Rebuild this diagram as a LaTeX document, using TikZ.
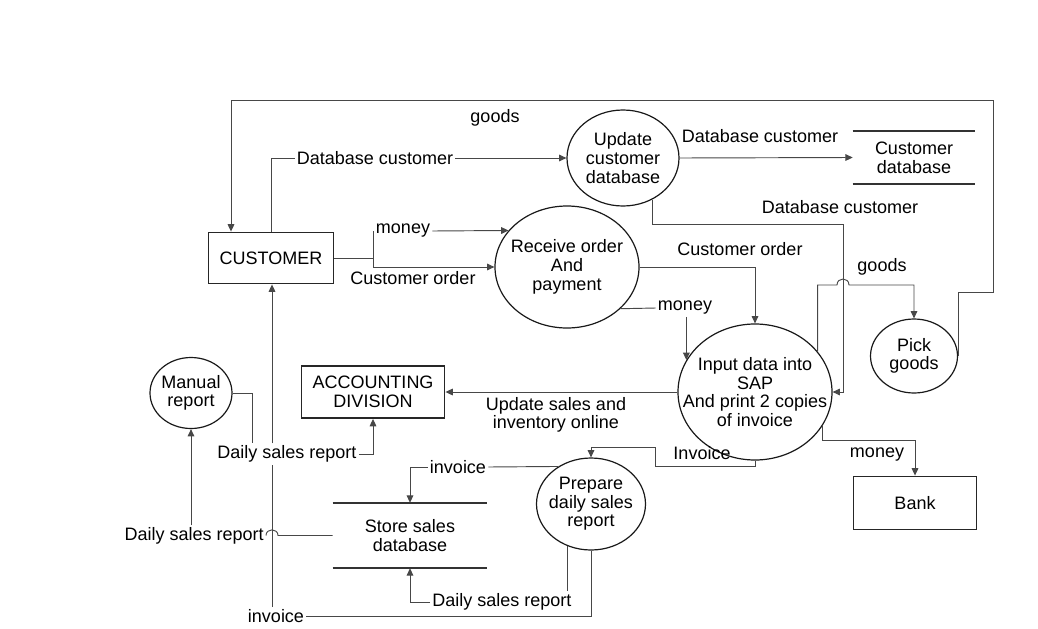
\documentclass[tikz,border=0pt]{standalone}
\usepackage{fontspec}
\setmainfont{Liberation Sans}
\usetikzlibrary{shapes.geometric,arrows.meta}
\begin{document}
\begin{tikzpicture}[x=0.75pt,y=-0.75pt,
  font=\fontsize{13.5}{14}\selectfont,
  flow/.style={draw=black!72, line width=0.7pt},
  tip/.style={-{Triangle[length=5.5pt,width=5pt]}},
  proc/.style={ellipse, draw=black!90, line width=0.9pt, inner sep=0pt},
  ptext/.style={align=center, inner sep=0pt},
  ent/.style={rectangle, draw=black!85, line width=1.4pt, align=center, inner sep=0pt},
  store/.style={rectangle, align=center, inner sep=0pt},
  storeline/.style={draw=black!80, line width=1.3pt},
  lab/.style={inner sep=1.5pt, align=center},
]
\useasboundingbox (0,0) rectangle (1038,628);

% processes (outline node plus its caption), entities and data stores
\node[ent, minimum width=93.75pt, minimum height=38.25pt] (cust) at (271,258) {CUSTOMER};
\node[proc, minimum width=84pt, minimum height=72pt] (upd) at (623,158) {};
\node[ptext] at (upd) {Update\\customer\\database};
\node[store, minimum width=91.5pt, minimum height=39.75pt] (cdb) at (914,157.5) {Customer\\database};
\node[proc, minimum width=108pt, minimum height=91.5pt] (recv) at (567,267) {};
\node[ptext] at (recv) {Receive order\\And\\payment};
\node[proc, minimum width=115.5pt, minimum height=102pt] (inp) at (755,392) {};
\node[ptext] at (inp) {Input data into\\SAP\\And print 2 copies\\of invoice};
\node[proc, minimum width=65.25pt, minimum height=55.5pt] (pick) at (914,356) {};
\node[ptext] at (pick) {Pick\\goods};
\node[ent, minimum width=107.25pt, minimum height=39pt] (acc) at (373,392) {ACCOUNTING\\DIVISION};
\node[proc, minimum width=61.5pt, minimum height=53.25pt] (man) at (191,393) {};
\node[ptext] at (man) {Manual\\report};
\node[proc, minimum width=81.75pt, minimum height=69pt] (prep) at (591,504) {};
\node[ptext] at (prep) {Prepare\\daily sales\\report};
\node[ent, minimum width=92.25pt, minimum height=39.75pt] (bank) at (915,503) {Bank};
\node[store, minimum width=115.5pt, minimum height=48.75pt] (sdb) at (410,535.5) {Store sales\\database};

\draw[storeline] (cdb.north west) -- (cdb.north east) (cdb.south west) -- (cdb.south east);
\draw[storeline] (sdb.north west) -- (sdb.north east) (sdb.south west) -- (sdb.south east);

% flow labels
\node[lab] (lgA) at (495,118) {goods};
\node[lab] (ldb1) at (375,158) {Database customer};
\node[lab] (ldb2) at (760,136) {Database customer};
\node[lab] (ldb3) at (840,207) {Database customer};
\node[lab] (lm1) at (403,231) {money};
\node[lab] (lco1) at (413,278) {Customer order};
\node[lab] (lco2) at (740,249) {Customer order};
\node[lab] (lm2) at (685,308) {money};
\node[lab] (lgB) at (882,267) {goods};
\node[lab] (lupd) at (556,415) {Update sales and\\inventory online};
\node[lab] (linv1) at (702,453) {Invoice};
\node[lab] (lm3) at (877,455) {money};
\node[lab] (lds1) at (287,454) {Daily sales report};
\node[lab, anchor=east] (lds2) at (266,536) {Daily sales report};
\node[lab] (linv2) at (458,467) {invoice};
\node[lab] (lds3) at (502,602) {Daily sales report};
\node[lab] (linv3) at (276,616) {invoice};

% bend points
\coordinate (gA) at (231,100);
\coordinate (gB) at (993,292);
\coordinate (dA) at (843,224);
\coordinate (cB) at (373,258);
\coordinate (pA) at (817,285);
\coordinate (iA) at (655,466);
\coordinate (iB) at (655,447);
\coordinate (mA) at (915,440);
\coordinate (vX) at (272,0);
\coordinate (rA) at (252,393);

% goods back to the customer
\draw[flow,tip] (pick.east) |- (gB) |- (gA) -- (cust.north -| gA);

% customer data
\draw[flow] (cust.north) |- (ldb1.west);
\draw[flow,tip] (ldb1.east) -- (upd.west);
\draw[flow,tip] (upd.east) -- (cdb.west);
\draw[flow,tip] (upd.-55) |- (dA) |- (inp.east);

% order and payment
\draw[flow] (cust.east) -- (cB) |- (lm1.west);
\draw[flow,tip] (lm1.east) -- (recv.148);
\draw[flow,tip] (cB) |- (recv.west);
\draw[flow,tip] (recv.east) -| (inp.north);
\draw[flow] (recv.-38) -- (lm2.west);
\draw[flow,tip] (lm2.south -| inp.155) -- (inp.155);

% goods to picking, with a hop over the crossing line
\draw[flow,tip] (inp.33) -- (inp.33 |- pA) -- (837,285)
  .. controls (837,277) and (849,277) .. (849,285) -| (pick.north);

% outputs of the SAP entry
\draw[flow,tip] (inp.west) -- (acc.east);
\draw[flow,tip] (inp.south) |- (iA) -- (iB) -| (prep.north);
\draw[flow,tip] (inp.-27) |- (mA) -- (bank.north);

% daily sales report process
\draw[flow] (prep.131) -- (linv2.east);
\draw[flow,tip] (linv2.west) -| (sdb.north);
\draw[flow] (prep.-119) -- (prep.-119 |- lds3.north);
\draw[flow,tip] (lds3.west) -| (sdb.south);
\draw[flow] (prep.south) |- (linv3.east);
\draw[flow] (linv3.north -| vX) -- (lds1.south -| vX);
\draw[flow,tip] (lds1.north -| vX) -- (cust.south -| vX);

% reports
\draw[flow] (sdb.west) -- (278,535.5) .. controls (278,528) and (266,528) .. (266,535.5);
\draw[flow,tip] (lds2.north -| man.south) -- (man.south);
\draw[flow] (man.east) -| (lds1.north -| rA);
\draw[flow,tip] (lds1.east) -| (acc.south);
\end{tikzpicture}
\end{document}
